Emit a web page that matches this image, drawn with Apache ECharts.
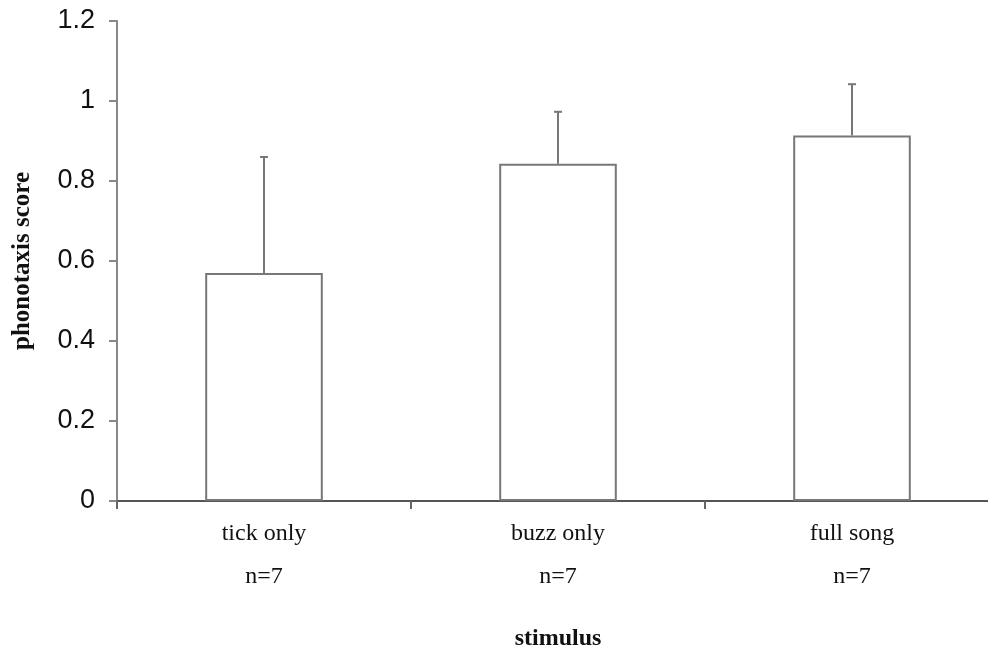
<!DOCTYPE html>
<html>
<head>
<meta charset="utf-8">
<script src="https://cdn.jsdelivr.net/npm/echarts@6/dist/echarts.min.js"></script>
<style>html,body{margin:0;padding:0;background:#fff;overflow:hidden;}#chart{width:1000px;height:656px;}</style>
</head>
<body>
<div id="chart"></div>
<script>
var categories = ['tick only', 'buzz only', 'full song'];
var sampleSizes = ['n=7', 'n=7', 'n=7'];
var means = [0.57, 0.843, 0.914];
var upperErrors = [0.86, 0.973, 1.042];
var yTicks = { min: 0, max: 1.2, interval: 0.2 };

var chart = echarts.init(document.getElementById('chart'));
var errData = categories.map(function (c, i) { return [i, means[i], upperErrors[i]]; });

chart.setOption({
  animation: false,
  backgroundColor: '#fff',
  grid: { left: 117, top: 21, right: 1, height: 481 },
  xAxis: {
    type: 'category',
    data: categories,
    boundaryGap: true,
    name: 'stimulus',
    nameLocation: 'middle',
    nameGap: 126,
    nameTextStyle: { fontFamily: 'Liberation Serif', fontWeight: 'bold', fontSize: 24, color: '#111' },
    axisLine: { lineStyle: { color: '#555', width: 2 } },
    axisTick: { show: true, alignWithLabel: false, length: 8, lineStyle: { color: '#666', width: 2 } },
    axisLabel: {
      margin: 11,
      fontFamily: 'Liberation Serif',
      fontSize: 24,
      lineHeight: 43,
      color: '#111',
      formatter: function (v, i) { return v + '\n' + sampleSizes[i]; }
    },
    splitLine: { show: false }
  },
  yAxis: {
    type: 'value',
    min: yTicks.min,
    max: yTicks.max,
    interval: yTicks.interval,
    name: 'phonotaxis score',
    nameLocation: 'middle',
    nameGap: 82,
    nameTextStyle: { fontFamily: 'Liberation Serif', fontWeight: 'bold', fontSize: 25, color: '#111' },
    axisLine: { show: true, lineStyle: { color: '#888', width: 2 } },
    axisTick: { show: true, length: 8, lineStyle: { color: '#888', width: 2 } },
    axisLabel: { margin: 22, fontFamily: 'Liberation Sans', fontSize: 27, color: '#111' },
    splitLine: { show: false }
  },
  series: [
    {
      type: 'bar',
      data: means,
      barWidth: '40%',
      itemStyle: { color: '#fff', borderColor: '#777', borderWidth: 2 },
      z: 2
    },
    {
      type: 'custom',
      data: errData,
      z: 3,
      renderItem: function (params, api) {
        var x = api.value(0);
        var lo = api.coord([x, api.value(1)]);
        var hi = api.coord([x, api.value(2)]);
        var cap = 4;
        return {
          type: 'group',
          children: [
            { type: 'line', shape: { x1: lo[0], y1: lo[1], x2: hi[0], y2: hi[1] }, style: { stroke: '#777', lineWidth: 2 } },
            { type: 'line', shape: { x1: hi[0] - cap, y1: hi[1], x2: hi[0] + cap, y2: hi[1] }, style: { stroke: '#777', lineWidth: 2 } }
          ]
        };
      }
    }
  ]
});
</script>
</body>
</html>
